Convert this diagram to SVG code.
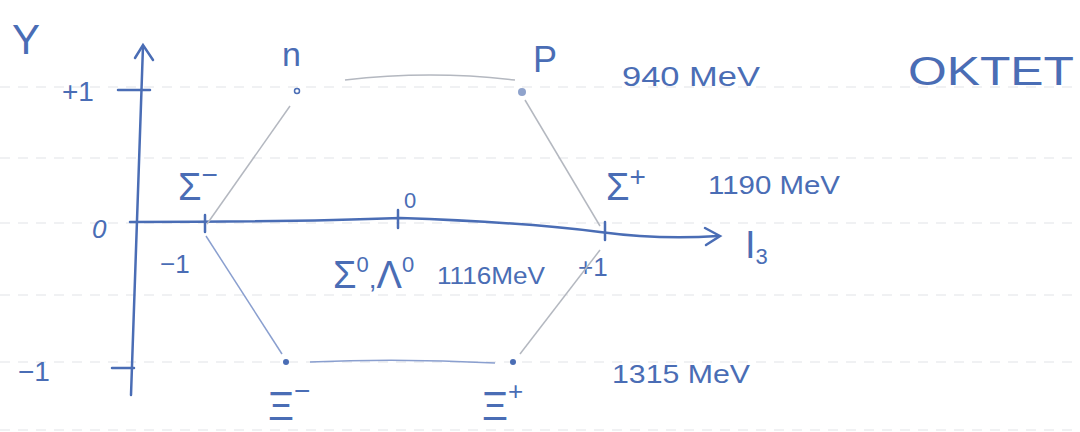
<svg xmlns="http://www.w3.org/2000/svg" width="1080" height="432" viewBox="0 0 1080 432">
<style>
.ink{fill:#4a6db5;font-family:"Liberation Sans","DejaVu Sans",sans-serif}
.ax{stroke:#4a6db5;stroke-width:2.5;fill:none;stroke-linecap:round}
.lg{stroke:#b4b8c0;stroke-width:1.5;fill:none}
.lb{stroke:#8a9fcf;stroke-width:1.5;fill:none}
.rule{stroke:#f0f1f3;stroke-width:2;stroke-dasharray:10 8}
</style>
<rect width="1080" height="432" fill="#fff"/>
<g id="paper">
<line class="rule" x1="0" y1="87" x2="1080" y2="87"/>
<line class="rule" x1="0" y1="158" x2="1080" y2="158"/>
<line class="rule" x1="0" y1="223" x2="1080" y2="223"/>
<line class="rule" x1="0" y1="295" x2="1080" y2="295"/>
<line class="rule" x1="0" y1="362" x2="1080" y2="362"/>
<line class="rule" x1="0" y1="430" x2="1080" y2="430"/>
</g>
<g id="axes">
<path class="ax" d="M131 395 L143 46"/>
<path class="ax" d="M135 58 L143 45 L153 60"/>
<path class="ax" d="M118 90 L150 90"/>
<path class="ax" d="M112 368 L134 368"/>
<path class="ax" d="M130 222 Q300 222 400 218 Q520 222 600 232 Q660 240 718 236"/>
<path class="ax" d="M705 228 L720 236 L706 245"/>
<path class="ax" d="M205 215 L205 232"/>
<path class="ax" d="M398 210 L398 228"/>
<path class="ax" d="M605 222 L605 240"/>
<text class="ink" x="12" y="54" font-size="42">Y</text>
<text class="ink" x="62" y="101" font-size="28">+1</text>
<text class="ink" x="92" y="238" font-size="26" font-style="italic">0</text>
<text class="ink" x="18" y="381" font-size="28">−1</text>
<text class="ink" x="160" y="273" font-size="26">−1</text>
<text class="ink" x="578" y="276" font-size="26">+1</text>
<text class="ink" x="745" y="258" font-size="38">I<tspan font-size="22" dy="6">3</tspan></text>
</g>
<g id="connectors">
<path class="lg" d="M290 106 L207 224"/>
<path class="lg" d="M345 80 Q430 70 515 80"/>
<path class="lg" d="M525 100 L600 226"/>
<path class="lb" d="M206 236 L282 354"/>
<path class="lg" d="M600 250 L520 354"/>
<path class="lb" d="M310 362 Q400 358 495 363"/>
</g>
<g id="node-n">
<text class="ink" x="282" y="66" font-size="34">n</text>
<circle cx="297" cy="91" r="2.5" fill="none" stroke="#4a6db5" stroke-width="1.5"/>
</g>
<g id="node-p">
<text class="ink" x="533" y="72" font-size="36">P</text>
<circle cx="522" cy="92" r="4" fill="#8fa3cc"/>
<text class="ink" x="622" y="86" font-size="27" textLength="138" lengthAdjust="spacingAndGlyphs">940 MeV</text>
</g>
<g id="node-sigma-minus">
<text class="ink" x="178" y="200" font-size="38">Σ<tspan font-size="28" dy="-16">−</tspan></text>
</g>
<g id="node-sigma0-lambda0">
<text class="ink" x="404" y="208" font-size="22">0</text>
<text class="ink" x="333" y="288" font-size="38">Σ<tspan font-size="22" dy="-16">0</tspan><tspan dy="16" font-size="28">,</tspan><tspan font-size="38">Λ</tspan><tspan font-size="22" dy="-16">0</tspan></text>
<text class="ink" x="437" y="284" font-size="24" textLength="108" lengthAdjust="spacingAndGlyphs">1116MeV</text>
</g>
<g id="node-sigma-plus">
<text class="ink" x="606" y="200" font-size="38">Σ<tspan font-size="28" dy="-14">+</tspan></text>
<text class="ink" x="708" y="194" font-size="26" textLength="132" lengthAdjust="spacingAndGlyphs">1190 MeV</text>
</g>
<g id="node-xi-minus">
<circle cx="286" cy="362" r="3" fill="#4a6db5"/>
<text class="ink" x="268" y="420" font-size="40">Ξ<tspan font-size="28" dy="-20">−</tspan></text>
</g>
<g id="node-xi-plus">
<circle cx="513" cy="362" r="3" fill="#4a6db5"/>
<text class="ink" x="482" y="420" font-size="40">Ξ<tspan font-size="26" dy="-20">+</tspan></text>
<text class="ink" x="612" y="383" font-size="26" textLength="138" lengthAdjust="spacingAndGlyphs">1315 MeV</text>
</g>
<g id="title">
<text class="ink" x="908" y="85" font-size="40" textLength="166" lengthAdjust="spacingAndGlyphs">OKTET</text>
</g>
</svg>
